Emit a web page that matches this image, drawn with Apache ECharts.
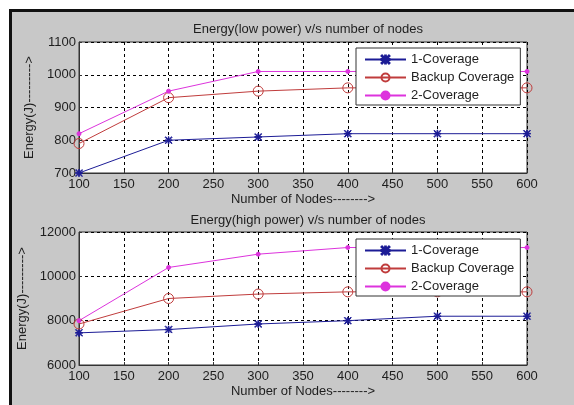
<!DOCTYPE html>
<html>
<head>
<meta charset="utf-8">
<script src="https://cdn.jsdelivr.net/npm/echarts@6/dist/echarts.min.js"></script>
<style>
html,body{margin:0;padding:0;background:#fff;}
#chart{width:574px;height:405px;}
</style>
</head>
<body>
<div id="chart"></div>
<script>
var xNodes = [100, 200, 300, 400, 500, 600];
var seriesNames = ['1-Coverage', 'Backup Coverage', '2-Coverage'];
var lowOneCov = [700, 800, 810, 820, 820, 820];
var lowBackup = [790, 930, 950, 960, 960, 960];
var lowTwoCov = [820, 950, 1010, 1010, 1010, 1010];
var highOneCov = [7450, 7600, 7850, 8000, 8200, 8200];
var highBackup = [7850, 9000, 9200, 9300, 9300, 9300];
var highTwoCov = [8000, 10400, 11000, 11300, 11300, 11300];
var titles = ['Energy(low power) v/s number of nodes', 'Energy(high power) v/s number of nodes'];
var xName = 'Number of Nodes-------->';
var yName = 'Energy(J)--------->';

var FONT = "'Liberation Sans', Arial, sans-serif";
var TXT = '#1e1e1e';
var starPath = 'path://M4.5 0H5.5V10H4.5Z M0 4.5H10V5.5H0Z M0 0.7L0.7 0L10 9.3L9.3 10Z M9.3 0L10 0.7L0.7 10L0 9.3Z';
var colors = ['#1c1c96', '#c03c3c', '#dd33dd'];
var symbols = [starPath, 'circle', 'circle'];
var symSizes = [7, 10, 4];
var symFills = ['#1c1c96', 'rgba(0,0,0,0)', '#dd33dd'];

function pairs(vals) { return xNodes.map(function (x, i) { return [x, vals[i]]; }); }

function mkSeries(gi, vals) {
  return vals.map(function (v, k) {
    return {
      name: seriesNames[k], type: 'line', xAxisIndex: gi, yAxisIndex: gi,
      data: pairs(v), symbol: symbols[k], symbolSize: symSizes[k],
      lineStyle: { color: colors[k], width: 1 },
      itemStyle: { color: symFills[k], borderColor: colors[k], borderWidth: 1 },
      showAllSymbol: true, animation: false, z: 3
    };
  });
}
function plain(v) { return String(v); }

function xAxis(gi, gap) {
  return {
    type: 'value', gridIndex: gi, min: 100, max: 600, interval: 50,
    name: xName, nameLocation: 'middle', nameGap: gap,
    nameTextStyle: { color: TXT, fontSize: 13, fontFamily: FONT },
    axisLine: { show: true, lineStyle: { color: '#333', width: 1 } },
    axisTick: { show: true, inside: true, length: 3, lineStyle: { color: '#333' } },
    axisLabel: { color: TXT, fontSize: 13, fontFamily: FONT, margin: 5, formatter: plain },
    splitLine: { show: true, lineStyle: { color: '#000', type: [3, 3], width: 1 } }
  };
}
function yAxis(gi, min, max, interval, gap) {
  return {
    type: 'value', gridIndex: gi, min: min, max: max, interval: interval,
    name: yName, nameLocation: 'middle', nameGap: gap,
    nameTextStyle: { color: TXT, fontSize: 13, fontFamily: FONT },
    axisLine: { show: true, lineStyle: { color: '#333', width: 1 } },
    axisTick: { show: true, inside: true, length: 3, lineStyle: { color: '#333' } },
    axisLabel: { color: TXT, fontSize: 13, fontFamily: FONT, margin: 3, formatter: plain },
    splitLine: { show: true, lineStyle: { color: '#000', type: [3, 3], width: 1 } }
  };
}
function legend(top) {
  return {
    data: seriesNames, orient: 'vertical', left: 356, top: top,
    backgroundColor: '#fff', borderColor: '#333', borderWidth: 1,
    padding: [5, 6, 3, 8], itemWidth: 41, itemHeight: 10, itemGap: 5,
    textStyle: { color: TXT, fontSize: 13, fontFamily: FONT },
    selectedMode: false
  };
}

var chart = echarts.init(document.getElementById('chart'), null, { renderer: 'canvas' });
chart.setOption({
  animation: false,
  backgroundColor: '#fff',
  graphic: [
    { type: 'rect', z: -100, silent: true, left: 10, top: 10, shape: { width: 564, height: 395 },
      style: { fill: '#c8c8c8' } },
    { type: 'rect', z: -99, silent: true, left: 9, top: 9, shape: { width: 565, height: 3 },
      style: { fill: '#111' } },
    { type: 'rect', z: -99, silent: true, left: 9, top: 9, shape: { width: 3, height: 396 },
      style: { fill: '#111' } }
  ],
  title: [
    { text: titles[0], left: 303, top: 18, textAlign: 'center',
      textStyle: { color: TXT, fontSize: 13, fontWeight: 'normal', fontFamily: FONT } },
    { text: titles[1], left: 303, top: 209, textAlign: 'center',
      textStyle: { color: TXT, fontSize: 13, fontWeight: 'normal', fontFamily: FONT } }
  ],
  grid: [
    { left: 79, top: 42, width: 448, height: 131, show: true, backgroundColor: '#fff', borderColor: '#333', borderWidth: 1 },
    { left: 79, top: 232, width: 448, height: 133, show: true, backgroundColor: '#fff', borderColor: '#333', borderWidth: 1 }
  ],
  xAxis: [xAxis(0, 20), xAxis(1, 20)],
  yAxis: [yAxis(0, 700, 1100, 100, 38), yAxis(1, 6000, 12000, 2000, 45)],
  legend: [legend(48), legend(239)],
  series: mkSeries(0, [lowOneCov, lowBackup, lowTwoCov]).concat(mkSeries(1, [highOneCov, highBackup, highTwoCov]))
});
</script>
</body>
</html>
